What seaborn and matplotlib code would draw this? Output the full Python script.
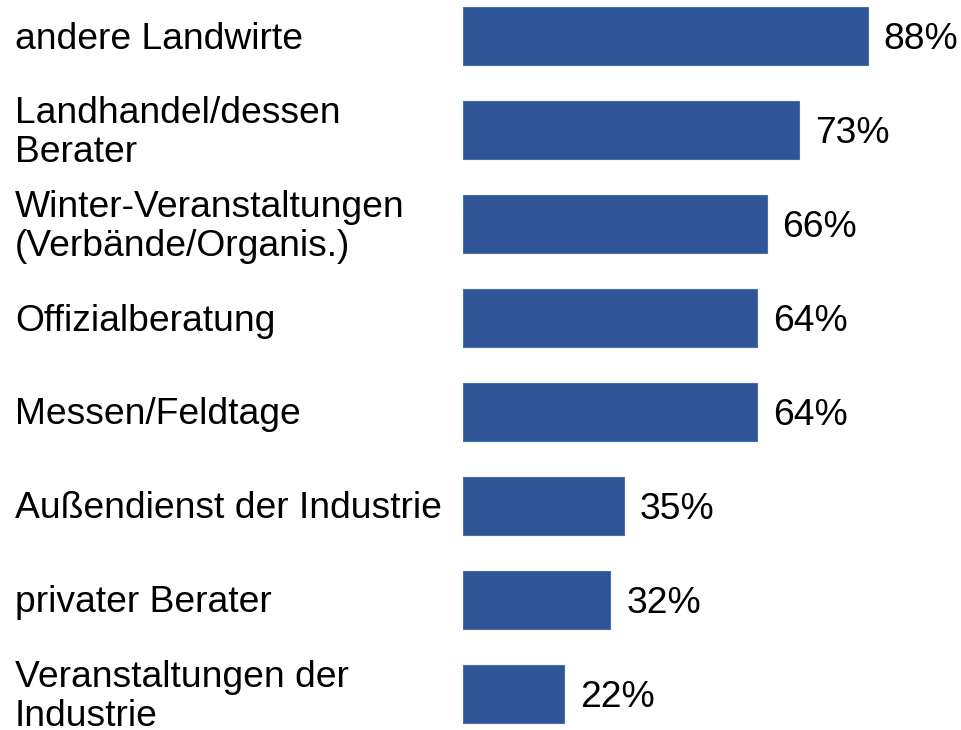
import pandas as pd
import matplotlib
matplotlib.use("Agg")
import matplotlib.pyplot as plt
import matplotlib.transforms as mtransforms
import seaborn as sns

# Daten aus der Grafik
kategorien = [
    "andere Landwirte",
    "Landhandel/dessen\nBerater",
    "Winter-Veranstaltungen\n(Verbände/Organis.)",
    "Offizialberatung",
    "Messen/Feldtage",
    "Außendienst der Industrie",
    "privater Berater",
    "Veranstaltungen der\nIndustrie",
]
anteile = [88, 73, 66, 64, 64, 35, 32, 22]

BALKEN_FARBE = "#2F5597"
SCHRIFT = 26.8

sns.set_theme(style="white")
plt.rcParams["font.family"] = ["Liberation Sans", "DejaVu Sans"]

df = pd.DataFrame({"Quelle": kategorien, "Anteil": anteile})

fig = plt.figure(figsize=(9.62, 7.3), dpi=100)
ax = fig.add_axes([463 / 962, 0, 460 / 962, 1])

sns.barplot(data=df, x="Anteil", y="Quelle", color=BALKEN_FARBE, width=0.625,
            edgecolor="#4A6DAE", linewidth=0.8, saturation=1, ax=ax)

ax.set_xlim(0, 100)
ax.set_ylim(7.383, -0.383)
ax.set_xlabel("")
ax.set_ylabel("")
ax.set_xticks([])
ax.set_yticks([])
for s in ax.spines.values():
    s.set_visible(False)

# Werte rechts neben den Balken (etwas nach unten versetzt wie im Original)
werte = ax.bar_label(ax.containers[0], fmt="%g%%", padding=11.5, fontsize=SCHRIFT, color="black")
for t in werte:
    t.xyann = (11.5, -2.4)

# Kategorien linksbündig am Bildrand
runter = mtransforms.ScaledTranslation(0, -0.03, fig.dpi_scale_trans)
trans = mtransforms.blended_transform_factory(fig.transFigure, ax.transData) + runter
for i, name in enumerate(kategorien):
    ax.text(15 / 962, i, name, transform=trans, ha="left", va="center",
            fontsize=SCHRIFT, color="black", linespacing=1.14)

fig.savefig("out.png", dpi=100)
